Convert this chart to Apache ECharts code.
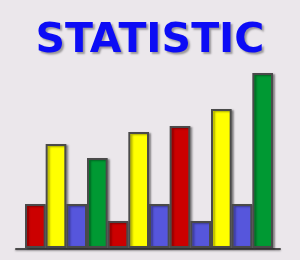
<!DOCTYPE html>
<html>
<head>
<meta charset="utf-8">
<script src="https://cdn.jsdelivr.net/npm/echarts@6/dist/echarts.min.js"></script>
<style>
html, body { margin: 0; padding: 0; background: #ebe7eb; }
#draw { width: 300px; height: 260px; }
</style>
</head>
<body>
<div id="draw"></div>
<script>
var titleText = 'STATISTIC';
var categories = ['1', '2', '3', '4', '5', '6', '7', '8', '9', '10', '11', '12'];
var values = [44, 104, 44, 90, 27, 116, 44, 122, 27, 139, 44, 175];
var barColors = ['#cc0000', '#ffff00', '#5656dc', '#009933', '#cc0000', '#ffff00',
	'#5656dc', '#cc0000', '#5656dc', '#ffff00', '#5656dc', '#009933'];

var myChart = echarts.init(document.getElementById('draw'));

var option = {
	backgroundColor : '#ebe7eb',
	animation : false,
	title : {
		text : titleText,
		left : 'center',
		top : 16,
		textStyle : {
			fontFamily : 'DejaVu Sans',
			fontWeight : 'bold',
			fontSize : 41,
			color : '#0c0cf5',
			textShadowColor : 'rgba(0,0,0,0.35)',
			textShadowBlur : 2,
			textShadowOffsetX : 2,
			textShadowOffsetY : 2
		}
	},
	grid : [ {
		left : 25,
		right : 27,
		top : 73,
		bottom : 12
	}, {
		// only used for the base line
		left : 16,
		right : 20,
		top : 73,
		bottom : 11
	} ],
	xAxis : [ {
		type : 'category',
		gridIndex : 0,
		data : categories,
		show : false
	}, {
		type : 'value',
		gridIndex : 1,
		min : 0,
		max : 1,
		axisLine : {
			show : true,
			lineStyle : {
				color : '#4a4a4a',
				width : 2,
				shadowColor : 'rgba(0,0,0,0.35)',
				shadowBlur : 2,
				shadowOffsetY : 1
			}
		},
		axisTick : { show : false },
		axisLabel : { show : false },
		splitLine : { show : false }
	} ],
	yAxis : [ {
		type : 'value',
		gridIndex : 0,
		min : 0,
		max : 175,
		show : false
	}, {
		type : 'value',
		gridIndex : 1,
		min : 0,
		max : 1,
		show : false
	} ],
	series : [ {
		type : 'bar',
		xAxisIndex : 0,
		yAxisIndex : 0,
		barCategoryGap : '0%',
		data : values.map(function(v, i) {
			return {
				value : v,
				itemStyle : { color : barColors[i] }
			};
		}),
		itemStyle : {
			borderColor : '#4a4a4a',
			borderWidth : 2,
			shadowColor : 'rgba(0,0,0,0.35)',
			shadowBlur : 2,
			shadowOffsetX : 2,
			shadowOffsetY : 1
		}
	} ]
};
myChart.setOption(option);
</script>
</body>
</html>
